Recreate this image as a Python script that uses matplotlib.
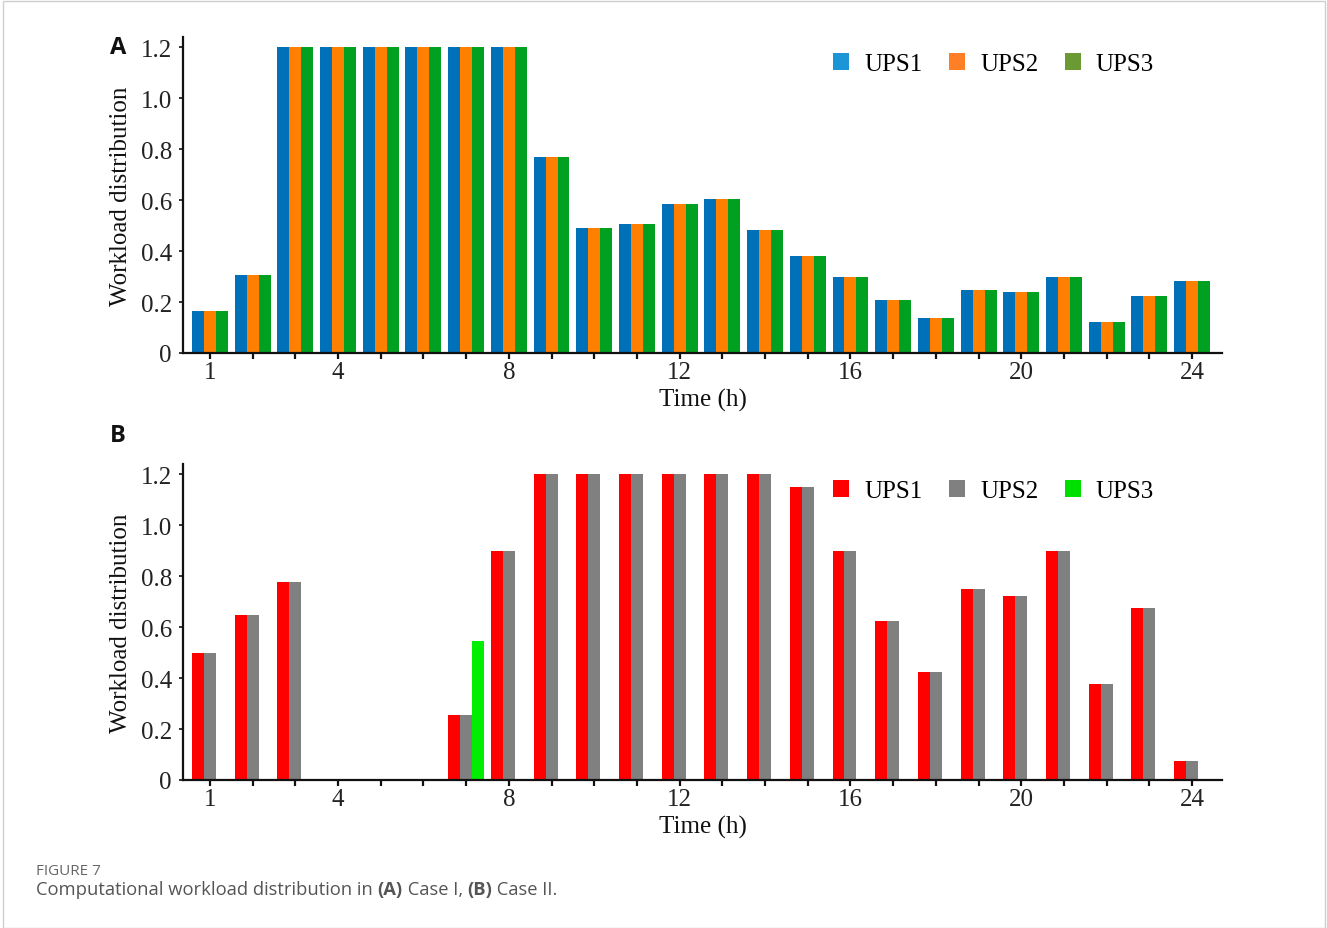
import matplotlib
matplotlib.use("Agg")
import matplotlib.pyplot as plt
import numpy as np
from matplotlib.patches import Patch, Rectangle

hours = list(range(1, 25))
tick_labels = ["1", "4", "8", "12", "16", "20", "24"]
series_names = ["UPS1", "UPS2", "UPS3"]

# Case I: identical loads for all three UPS units
case1_ups1 = [0.165, 0.306, 1.2, 1.2, 1.2, 1.2, 1.2, 1.2, 0.769, 0.49, 0.507, 0.583,
              0.606, 0.483, 0.382, 0.30, 0.207, 0.138, 0.247, 0.241, 0.30, 0.121, 0.224, 0.283]
case1_ups2 = list(case1_ups1)
case1_ups3 = list(case1_ups1)

# Case II
case2_ups1 = [0.5, 0.648, 0.776, 0, 0, 0, 0.254, 0.90, 1.2, 1.2, 1.2, 1.2,
              1.2, 1.2, 1.148, 0.90, 0.624, 0.424, 0.75, 0.723, 0.90, 0.376, 0.676, 0.076]
case2_ups2 = list(case2_ups1)
case2_ups3 = [0, 0, 0, 0, 0, 0, 0.547, 0, 0, 0, 0, 0,
              0, 0, 0, 0, 0, 0, 0, 0, 0, 0, 0, 0]

W, H = 1327, 929
fig = plt.figure(figsize=(W / 100, H / 100), dpi=100)
serif = ["Liberation Serif", "DejaVu Serif"]
FS = 18

# thin outer frame
fig.add_artist(Rectangle((3 / W, 0), (W - 5) / W, 1 - 2 / H, transform=fig.transFigure,
                         fill=False, edgecolor="#cfcfcf", linewidth=1.0))


def draw_panel(rect, data, bar_colors, legend_colors, letter, letter_y, legend_y):
    ax = fig.add_axes(rect)
    x = np.array(hours, dtype=float)
    bw = 0.28
    for i, (vals, c) in enumerate(zip(data, bar_colors)):
        ax.bar(x + (i - 1) * bw, vals, width=bw, color=c, edgecolor="none", linewidth=0)
    ax.set_xlim(0.37, 24.7)
    ax.set_ylim(0, 1.24)
    for s in ("top", "right"):
        ax.spines[s].set_visible(False)
    for s in ("left", "bottom"):
        ax.spines[s].set_linewidth(1.6)
        ax.spines[s].set_color("#111111")
    ax.set_xticks(hours)
    ax.set_xticklabels([str(h) if str(h) in tick_labels else "" for h in hours])
    ax.set_yticks([0, 0.2, 0.4, 0.6, 0.8, 1.0, 1.2])
    ax.set_yticklabels(["0", "0.2", "0.4", "0.6", "0.8", "1.0", "1.2"])
    ax.tick_params(axis="x", direction="out", length=4, width=1.6, pad=2, color="#111111")
    ax.tick_params(axis="y", direction="out", length=3, width=1.2, pad=5, color="#111111")
    for lab in ax.get_xticklabels() + ax.get_yticklabels():
        lab.set_fontfamily(serif)
        lab.set_fontsize(FS)
        lab.set_color("#222222")
    ax.set_xlabel("Time (h)", fontfamily=serif, fontsize=FS, color="#111111", labelpad=3)
    ax.set_ylabel("Workload distribution", fontfamily=serif, fontsize=FS, color="#111111", labelpad=6)
    handles = [Patch(facecolor=c, edgecolor="none") for c in legend_colors]
    fig.legend(handles, series_names, loc="center left",
               bbox_to_anchor=(833 / W, 1 - legend_y / H), bbox_transform=fig.transFigure,
               ncol=3, frameon=False, borderpad=0, borderaxespad=0,
               handlelength=0.65, handleheight=0.65,
               handletextpad=0.6, columnspacing=1.05,
               prop={"family": serif, "size": FS})
    fig.text(110 / W, 1 - letter_y / H, letter, fontsize=17, fontweight="bold",
             fontfamily=["Open Sans", "DejaVu Sans"], va="center", ha="left", color="#111111")
    return ax


draw_panel([183 / W, 1 - 354 / H, (1222 - 183) / W, (354 - 38) / H],
           [case1_ups1, case1_ups2, case1_ups3],
           ["#0070b8", "#ff8000", "#00a020"],
           ["#1b95d6", "#ff7f27", "#6b9a35"], "A", 48, 65)

draw_panel([183 / W, 1 - 781 / H, (1222 - 183) / W, (781 - 465) / H],
           [case2_ups1, case2_ups2, case2_ups3],
           ["#ff0000", "#808080", "#00ee00"],
           ["#ff0000", "#808080", "#00e000"], "B", 436, 492)

# caption
sans = ["Open Sans", "DejaVu Sans"]
fig.text(36 / W, 1 - 872 / H, "FIGURE 7", fontsize=11, fontfamily=sans, color="#666666",
         va="center", ha="left")
fig.canvas.draw()
renderer = fig.canvas.get_renderer()
pieces = [("Computational workload distribution in ", "normal"), ("(A)", "bold"),
          (" Case I, ", "normal"), ("(B)", "bold"), (" Case II.", "normal")]
xpos = 36
for txt, wt in pieces:
    t = fig.text(xpos / W, 1 - 890 / H, txt, fontsize=13.2, fontfamily=sans, fontweight=wt,
                 color="#555555", va="center", ha="left")
    bb = t.get_window_extent(renderer=renderer)
    xpos += bb.width

fig.savefig("out.png", dpi=100)
